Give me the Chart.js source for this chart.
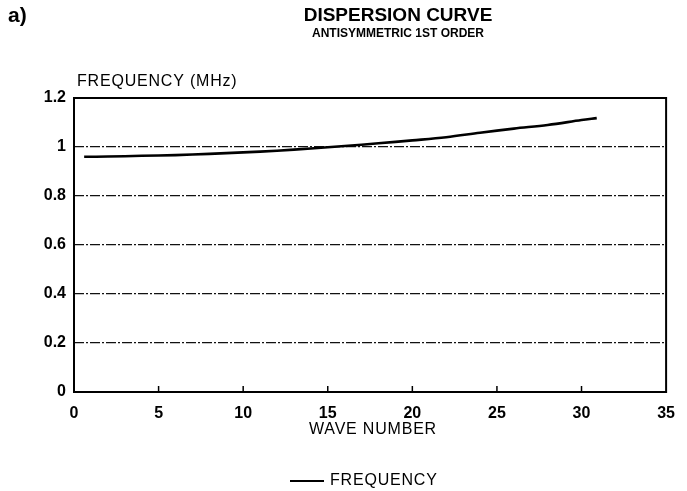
<!DOCTYPE html>
<html>
<head>
<meta charset="utf-8">
<script src="https://cdn.jsdelivr.net/npm/chart.js@4"></script>
<style>
  html, body { margin: 0; padding: 0; background: #fff; }
  #wrap { width: 687px; height: 491px; position: relative; }
</style>
</head>
<body>
<div id="wrap"><canvas id="grafico" width="687" height="491"></canvas></div>
<script>
// dados
const waveNumber = [0.6, 2, 4, 6, 8, 10, 12, 14, 16, 18, 20, 22, 24, 26, 28, 30, 30.9];
const frequency = [0.960, 0.961, 0.964, 0.967, 0.972, 0.978, 0.985, 0.994, 1.004, 1.015, 1.027, 1.040, 1.058, 1.075, 1.090, 1.110, 1.118];
const xTicks = [0, 5, 10, 15, 20, 25, 30, 35];
const yTicks = [0, 0.2, 0.4, 0.6, 0.8, 1, 1.2];

const FONT = "'Liberation Sans', Arial, sans-serif";

// textos, moldura e marcas do eixo x
const extras = {
    id: 'extras',
    afterDraw(chart) {
        const ctx = chart.ctx;
        const a = chart.chartArea;
        const xs = chart.scales.x;
        ctx.save();
        ctx.fillStyle = '#000';
        ctx.textBaseline = 'middle';

        ctx.font = 'bold 21px ' + FONT;
        ctx.textAlign = 'left';
        ctx.fillText('a)', 8, 16);

        ctx.textAlign = 'center';
        ctx.font = 'bold 19px ' + FONT;
        ctx.fillText('DISPERSION CURVE', 398, 16);
        ctx.font = 'bold 12px ' + FONT;
        ctx.fillText('ANTISYMMETRIC 1ST ORDER', 398, 34);

        ctx.font = '16px ' + FONT;
        ctx.letterSpacing = '0.8px';
        ctx.textAlign = 'left';
        ctx.fillText('FREQUENCY (MHz)', 77, 82);

        ctx.textAlign = 'center';
        ctx.fillText('WAVE NUMBER', 373, 430);

        // legenda
        ctx.strokeStyle = '#000';
        ctx.lineWidth = 2;
        ctx.beginPath();
        ctx.moveTo(290, 481);
        ctx.lineTo(324, 481);
        ctx.stroke();
        ctx.textAlign = 'left';
        ctx.fillText('FREQUENCY', 330, 481);
        ctx.letterSpacing = '0px';

        // moldura
        ctx.lineWidth = 2;
        ctx.strokeRect(a.left, a.top, a.right - a.left, a.bottom - a.top);

        // marcas internas do eixo x
        ctx.lineWidth = 1.5;
        xTicks.slice(1, -1).forEach(v => {
            const px = xs.getPixelForValue(v);
            ctx.beginPath();
            ctx.moveTo(px, a.bottom);
            ctx.lineTo(px, a.bottom - 6);
            ctx.stroke();
        });
        ctx.restore();
    }
};

new Chart(document.getElementById('grafico').getContext('2d'), {
    type: 'line',
    data: {
        datasets: [{
            label: 'FREQUENCY',
            data: waveNumber.map((x, i) => ({ x: x, y: frequency[i] })),
            borderColor: '#000',
            borderWidth: 2.6,
            pointRadius: 0,
            tension: 0.35,
            fill: false
        }]
    },
    options: {
        responsive: false,
        animation: false,
        layout: { padding: { left: 0, top: 98, right: 20, bottom: 0 } },
        plugins: {
            legend: { display: false },
            tooltip: { enabled: false }
        },
        scales: {
            x: {
                type: 'linear',
                min: 0,
                max: 35,
                afterBuildTicks: s => { s.ticks = xTicks.map(v => ({ value: v })); },
                afterFit: s => { s.height = 99; },
                grid: { display: false, drawTicks: false },
                border: { display: false },
                ticks: {
                    color: '#000',
                    padding: 12,
                    maxRotation: 0,
                    font: { family: FONT, size: 16, weight: 'bold' }
                }
            },
            y: {
                min: 0,
                max: 1.2,
                afterBuildTicks: s => { s.ticks = yTicks.map(v => ({ value: v })); },
                afterFit: s => { s.width = 74; },
                grid: {
                    color: '#111',
                    lineWidth: 1.2,
                    drawTicks: false
                },
                border: { display: false, dash: [10, 2, 2, 2] },
                ticks: {
                    color: '#000',
                    padding: 8,
                    font: { family: FONT, size: 16, weight: 'bold' },
                    callback: v => String(v)
                }
            }
        }
    },
    plugins: [extras]
});
</script>
</body>
</html>
